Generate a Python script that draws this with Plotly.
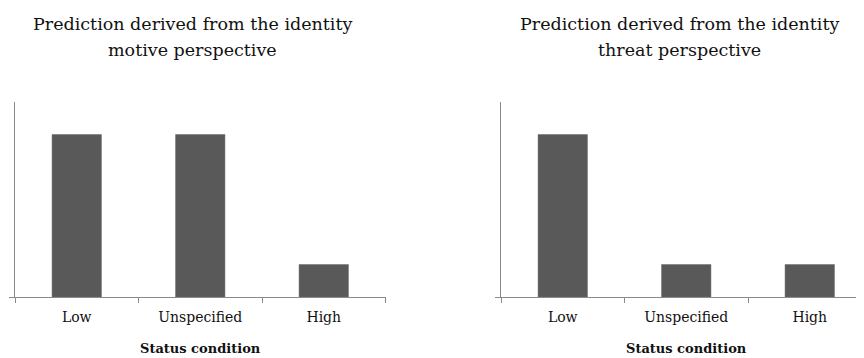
import plotly.graph_objects as go

categories = ["Low", "Unspecified", "High"]
motive_values = [5, 5, 1]
threat_values = [5, 1, 1]
title_lines = [["Prediction derived from the identity", "motive perspective"],
               ["Prediction derived from the identity", "threat perspective"]]
x_title = "Status condition"

# page body has an 8px margin: shift the figure geometry accordingly
OFF = 8
W, H = 864 - OFF, 358 - OFF
BAR = "#595959"
AX = "#8a8a8a"
FONT = "DejaVu Serif"


def px(x):
    return (x - OFF) / W


def py(y):
    return 1 - (y - OFF) / H


fig = go.Figure()
fig.add_trace(go.Bar(x=categories, y=motive_values, xaxis="x", yaxis="y",
                     marker=dict(color=BAR, line=dict(color="#6a6a6a", width=0.5)),
                     width=0.4, showlegend=False))
fig.add_trace(go.Bar(x=categories, y=threat_values, xaxis="x2", yaxis="y2",
                     marker=dict(color=BAR, line=dict(color="#6a6a6a", width=0.5)),
                     width=0.4, showlegend=False))

cat_w = 123.5

xcommon = dict(type="category", showline=True, linecolor=AX, linewidth=1,
               ticks="outside", tickson="boundaries", ticklen=5, tickcolor=AX,
               showgrid=False, zeroline=False, ticklabelstandoff=7,
               tickfont=dict(family=FONT, size=14, color="#111"))
ycommon = dict(range=[0, 6], showline=True, linecolor=AX, linewidth=1,
               ticks="outside", tickvals=[0], ticklen=5, tickcolor=AX,
               showticklabels=False, showgrid=False, zeroline=False,
               domain=[py(297), py(102)])

fig.update_layout(
    width=W, height=H,
    margin=dict(l=0, r=0, t=0, b=0),
    paper_bgcolor="white", plot_bgcolor="white",
    font=dict(family=FONT),
    xaxis=dict(domain=[px(15), px(15 + 3 * cat_w)], range=[-0.5, 2.5],
               anchor="y", **xcommon),
    yaxis=dict(anchor="x", **ycommon),
    xaxis2=dict(domain=[px(501), 1.0], range=[-0.5, -0.5 + (864 - 501) / cat_w],
                anchor="y2", **xcommon),
    yaxis2=dict(anchor="x2", **ycommon),
)

title_x = [192, 679]
line_y = [24, 50]
axis_title_x = [200, 686]
for i in range(2):
    for j, line in enumerate(title_lines[i]):
        fig.add_annotation(text=line, x=px(title_x[i]), y=py(line_y[j]),
                           xref="paper", yref="paper", showarrow=False,
                           xanchor="center", yanchor="middle",
                           font=dict(family=FONT, size=17.5, color="#111"))
    fig.add_annotation(text="<b>" + x_title + "</b>", x=px(axis_title_x[i]),
                       y=py(348), xref="paper", yref="paper",
                       showarrow=False, xanchor="center", yanchor="middle",
                       font=dict(family=FONT, size=13, color="#111"))

fig.write_html("out.html")
